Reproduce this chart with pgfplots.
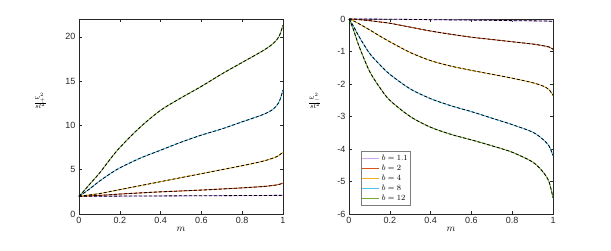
\documentclass[border=0pt]{standalone}
\usepackage{pgfplots}
\pgfplotsset{compat=1.18}
\usepackage{pgfplotstable}
\usepackage{fontspec}
\setmainfont{Liberation Sans}
\definecolor{cP}{RGB}{205,165,245}
\definecolor{cR}{RGB}{217,83,25}
\definecolor{cO}{RGB}{237,177,32}
\definecolor{cB}{RGB}{77,190,238}
\definecolor{cG}{RGB}{119,172,48}
\definecolor{axc}{RGB}{38,38,38}
\pgfplotstableread{
m     p     r     o     b     g
0     2     2     2     2     2
0.02  2.0   2.02  2.06  2.3   2.5
0.05  2.0   2.05  2.15  2.8   3.3
0.1   2.01  2.1   2.3   3.7   4.6
0.15  2.01  2.17  2.52  4.5   6.1
0.2   2.02  2.25  2.75  5.2   7.5
0.3   2.03  2.38  3.2   6.3   9.8
0.4   2.04  2.5   3.65  7.2   11.7
0.5   2.05  2.6   4.1   8.1   13.1
0.6   2.06  2.7   4.55  8.9   14.4
0.7   2.07  2.82  5.0   9.6   15.8
0.8   2.08  2.95  5.45  10.4  17.1
0.9   2.09  3.1   5.95  11.2  18.4
0.95  2.1   3.22  6.3   11.8  19.2
0.98  2.1   3.33  6.6   12.6  20.0
1     2.11  3.5   7.0   14.0  21.3
}\lefttab
\pgfplotstableread{
m     p      r      o      b      g
0     0      0      0      0      0
0.02  0      -0.005 -0.05  -0.2   -0.3
0.05  0      -0.02  -0.15  -0.55  -0.85
0.1   -0.003 -0.05  -0.33  -1.05  -1.6
0.15  -0.005 -0.09  -0.52  -1.4   -2.1
0.2   -0.008 -0.13  -0.7   -1.7   -2.5
0.3   -0.013 -0.25  -1.03  -2.15  -3.0
0.4   -0.02  -0.37  -1.28  -2.45  -3.33
0.5   -0.027 -0.47  -1.45  -2.67  -3.55
0.6   -0.034 -0.56  -1.58  -2.85  -3.72
0.7   -0.041 -0.63  -1.7   -3.05  -3.9
0.8   -0.05  -0.7   -1.82  -3.25  -4.1
0.9   -0.057 -0.77  -1.96  -3.48  -4.4
0.95  -0.062 -0.82  -2.06  -3.7   -4.7
0.98  -0.066 -0.86  -2.17  -3.9   -5.0
1     -0.07  -0.93  -2.35  -4.2   -5.5
}\righttab
\pgfplotsset{
  myax/.style={
    scale only axis, width=204pt, height=195pt,
    xmin=0, xmax=1,
    xtick={0,0.2,0.4,0.6,0.8,1},
    xticklabels={0,0.2,0.4,0.6,0.8,1},
    tick align=inside, major tick length=3pt,
    axis line style={axc, line width=0.4pt},
    tick style={axc, line width=0.4pt},
    ticklabel style={font=\fontsize{9}{10}\selectfont, text=axc},
    /pgf/number format/assume math mode=true,
    xlabel={$m$},
    xlabel style={font=\fontsize{10}{12}\selectfont, yshift=4pt},
    every axis plot/.append style={line width=0.9pt, smooth},
    clip=false,
  },
  dsh/.style={black, dashed, line width=0.8pt, dash pattern=on 3pt off 2pt, forget plot, smooth},
}
\begin{document}
\begin{tikzpicture}
\useasboundingbox (0pt,0pt) rectangle (611pt,250pt);
\begin{axis}[myax, at={(79pt,36pt)}, anchor=south west,
  ymin=0, ymax=22, ytick={0,5,10,15,20},
]
\addplot[cP] table[x=m,y=p]{\lefttab};
\addplot[cR] table[x=m,y=r]{\lefttab};
\addplot[cO] table[x=m,y=o]{\lefttab};
\addplot[cB] table[x=m,y=b]{\lefttab};
\addplot[cG] table[x=m,y=g]{\lefttab};
\addplot[dsh] table[x=m,y=p]{\lefttab};
\addplot[dsh] table[x=m,y=r]{\lefttab};
\addplot[dsh] table[x=m,y=o]{\lefttab};
\addplot[dsh] table[x=m,y=b]{\lefttab};
\addplot[dsh] table[x=m,y=g]{\lefttab};
\node[font=\fontsize{10}{12}\selectfont] at (rel axis cs:-0.19,0.58) {$\frac{\omega_+^2}{sl^2}$};
\end{axis}
\begin{axis}[myax, at={(349pt,36pt)}, anchor=south west,
  ymin=-6, ymax=0, ytick={-6,-5,-4,-3,-2,-1,0},
  yticklabels={-6,-5,-4,-3,-2,-1,0},
  legend style={at={(rel axis cs:0.057,0.046)}, anchor=south west, draw=axc!60, line width=0.4pt,
    font=\fontsize{8}{9}\selectfont, inner sep=1pt, row sep=-1pt, cells={anchor=west}},
  legend cell align=left,
  legend image post style={line width=0.9pt},
]
\addplot[cP] table[x=m,y=p]{\righttab};
\addlegendentry{$b=1.1$}
\addplot[cR] table[x=m,y=r]{\righttab};
\addlegendentry{$b=2$}
\addplot[cO] table[x=m,y=o]{\righttab};
\addlegendentry{$b=4$}
\addplot[cB] table[x=m,y=b]{\righttab};
\addlegendentry{$b=8$}
\addplot[cG] table[x=m,y=g]{\righttab};
\addlegendentry{$b=12$}
\addplot[dsh] table[x=m,y=p]{\righttab};
\addplot[dsh] table[x=m,y=r]{\righttab};
\addplot[dsh] table[x=m,y=o]{\righttab};
\addplot[dsh] table[x=m,y=b]{\righttab};
\addplot[dsh] table[x=m,y=g]{\righttab};
\node[font=\fontsize{10}{12}\selectfont] at (rel axis cs:-0.167,0.58) {$\frac{\omega_-^2}{sl^2}$};
\end{axis}
\end{tikzpicture}
\end{document}
